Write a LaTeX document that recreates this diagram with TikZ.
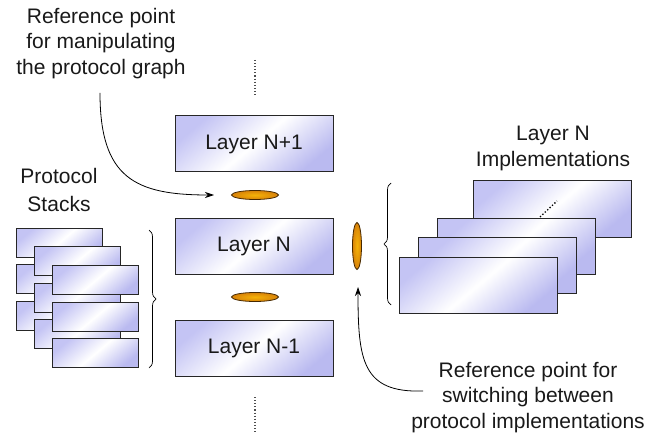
\documentclass[tikz,border=0pt]{standalone}
\usepackage{fontspec}
\setmainfont{Liberation Sans}
\usetikzlibrary{decorations.pathreplacing,arrows.meta,shapes.geometric}
\definecolor{boxblue}{RGB}{196,196,244}
\definecolor{boxblue2}{RGB}{186,186,240}
\definecolor{discfill}{RGB}{240,145,10}
\definecolor{discline}{RGB}{70,40,0}
\definecolor{txt}{RGB}{25,25,25}
\begin{document}
\begin{tikzpicture}[x=1pt,y=-1pt,
  boxbase/.style={draw=black!85, line width=1pt, shading=axis, top color=boxblue,
    bottom color=boxblue2, middle color=white, shading angle=40, inner sep=0pt},
  layerbox/.style={boxbase, minimum width=158pt, minimum height=56pt,
    font=\fontsize{21}{25}\selectfont, text=txt},
  stackbox/.style={boxbase, line width=0.8pt, minimum width=86pt, minimum height=29pt},
  implbox/.style={boxbase, minimum width=158pt, minimum height=56pt},
  disc/.style={ellipse, draw=discline, line width=0.8pt, inner sep=0pt,
    inner color=discfill!70!yellow, outer color=discfill!90!black},
  label/.style={align=center, inner sep=0pt, text=txt, font=\fontsize{21}{25.5}\selectfont},
  arr/.style={line width=0.8pt, -{Stealth[length=9pt,width=6pt]}},
  brc/.style={decorate, decoration={brace, amplitude=7pt}, line width=0.7pt},
  dots/.style={dotted, line width=1.1pt, black!70}]
\useasboundingbox (0,0) rectangle (652,438);

% dotted guide lines
\coordinate (dt1) at (255,60); \coordinate (dt2) at (255,95);
\coordinate (db1) at (255,397); \coordinate (db2) at (255,432);
\draw[dots] (dt1) -- (dt2);
\draw[dots] (db1) -- (db2);

% layer boxes
\node[layerbox] (l1) at (254,144) {Layer N+1};
\node[layerbox] (l2) at (254,246) {Layer N};
\node[layerbox] (l3) at (254,348) {Layer N-1};

% reference discs
\node[disc, minimum width=47pt, minimum height=9pt] (e1) at (255,195) {};
\node[disc, minimum width=47pt, minimum height=9pt] (e2) at (255,297) {};
\node[disc, minimum width=9pt, minimum height=47pt] (e3) at (357,246) {};

% protocol stacks
\node[stackbox] (s11) at (59,242.5) {};
\node[stackbox] (s12) at (59,279) {};
\node[stackbox] (s13) at (59,315.5) {};
\node[stackbox] (s21) at (77,261) {};
\node[stackbox] (s22) at (77,297.5) {};
\node[stackbox] (s23) at (77,334) {};
\node[stackbox] (s31) at (95.5,280) {};
\node[stackbox] (s32) at (95.5,316.5) {};
\node[stackbox] (s33) at (95.5,353) {};

% implementations
\node[implbox] (i1) at (552,209) {};
\coordinate (id1) at (540,217); \coordinate (id2) at (557,201);
\draw[dots, line width=1.3pt, black] (id1) -- (id2);
\node[implbox] (i2) at (516,246) {};
\node[implbox] (i3) at (497,265) {};
\node[implbox] (i4) at (478,285) {};

% braces
\coordinate (bl1) at (149,230); \coordinate (bl2) at (149,368);
\draw[brc] (bl1) -- (bl2);
\coordinate (br1) at (391,305); \coordinate (br2) at (391,183);
\draw[brc] (br1) -- (br2);

% labels
\node[label, anchor=north] (t1) at (101,8) {Reference point\\for manipulating\\the protocol graph};
\node[label, anchor=north, font=\fontsize{21}{28}\selectfont] (t2) at (59,168) {Protocol\\Stacks};
\node[label, anchor=north] (t3) at (553,126) {Layer N\\Implementations};
\node[label, anchor=north] (t4) at (528,362) {Reference point for\\switching between\\protocol implementations};

% arrows
\coordinate (a1s) at (100,93); \coordinate (a1e) at (214,195);
\draw[arr] (a1s) .. controls (100,178) and (135,195) .. (a1e);
\coordinate (a2s) at (423,391); \coordinate (a2e) at (358,287);
\draw[arr] (a2s) .. controls (362,393) and (358,360) .. (a2e);
\end{tikzpicture}
\end{document}
